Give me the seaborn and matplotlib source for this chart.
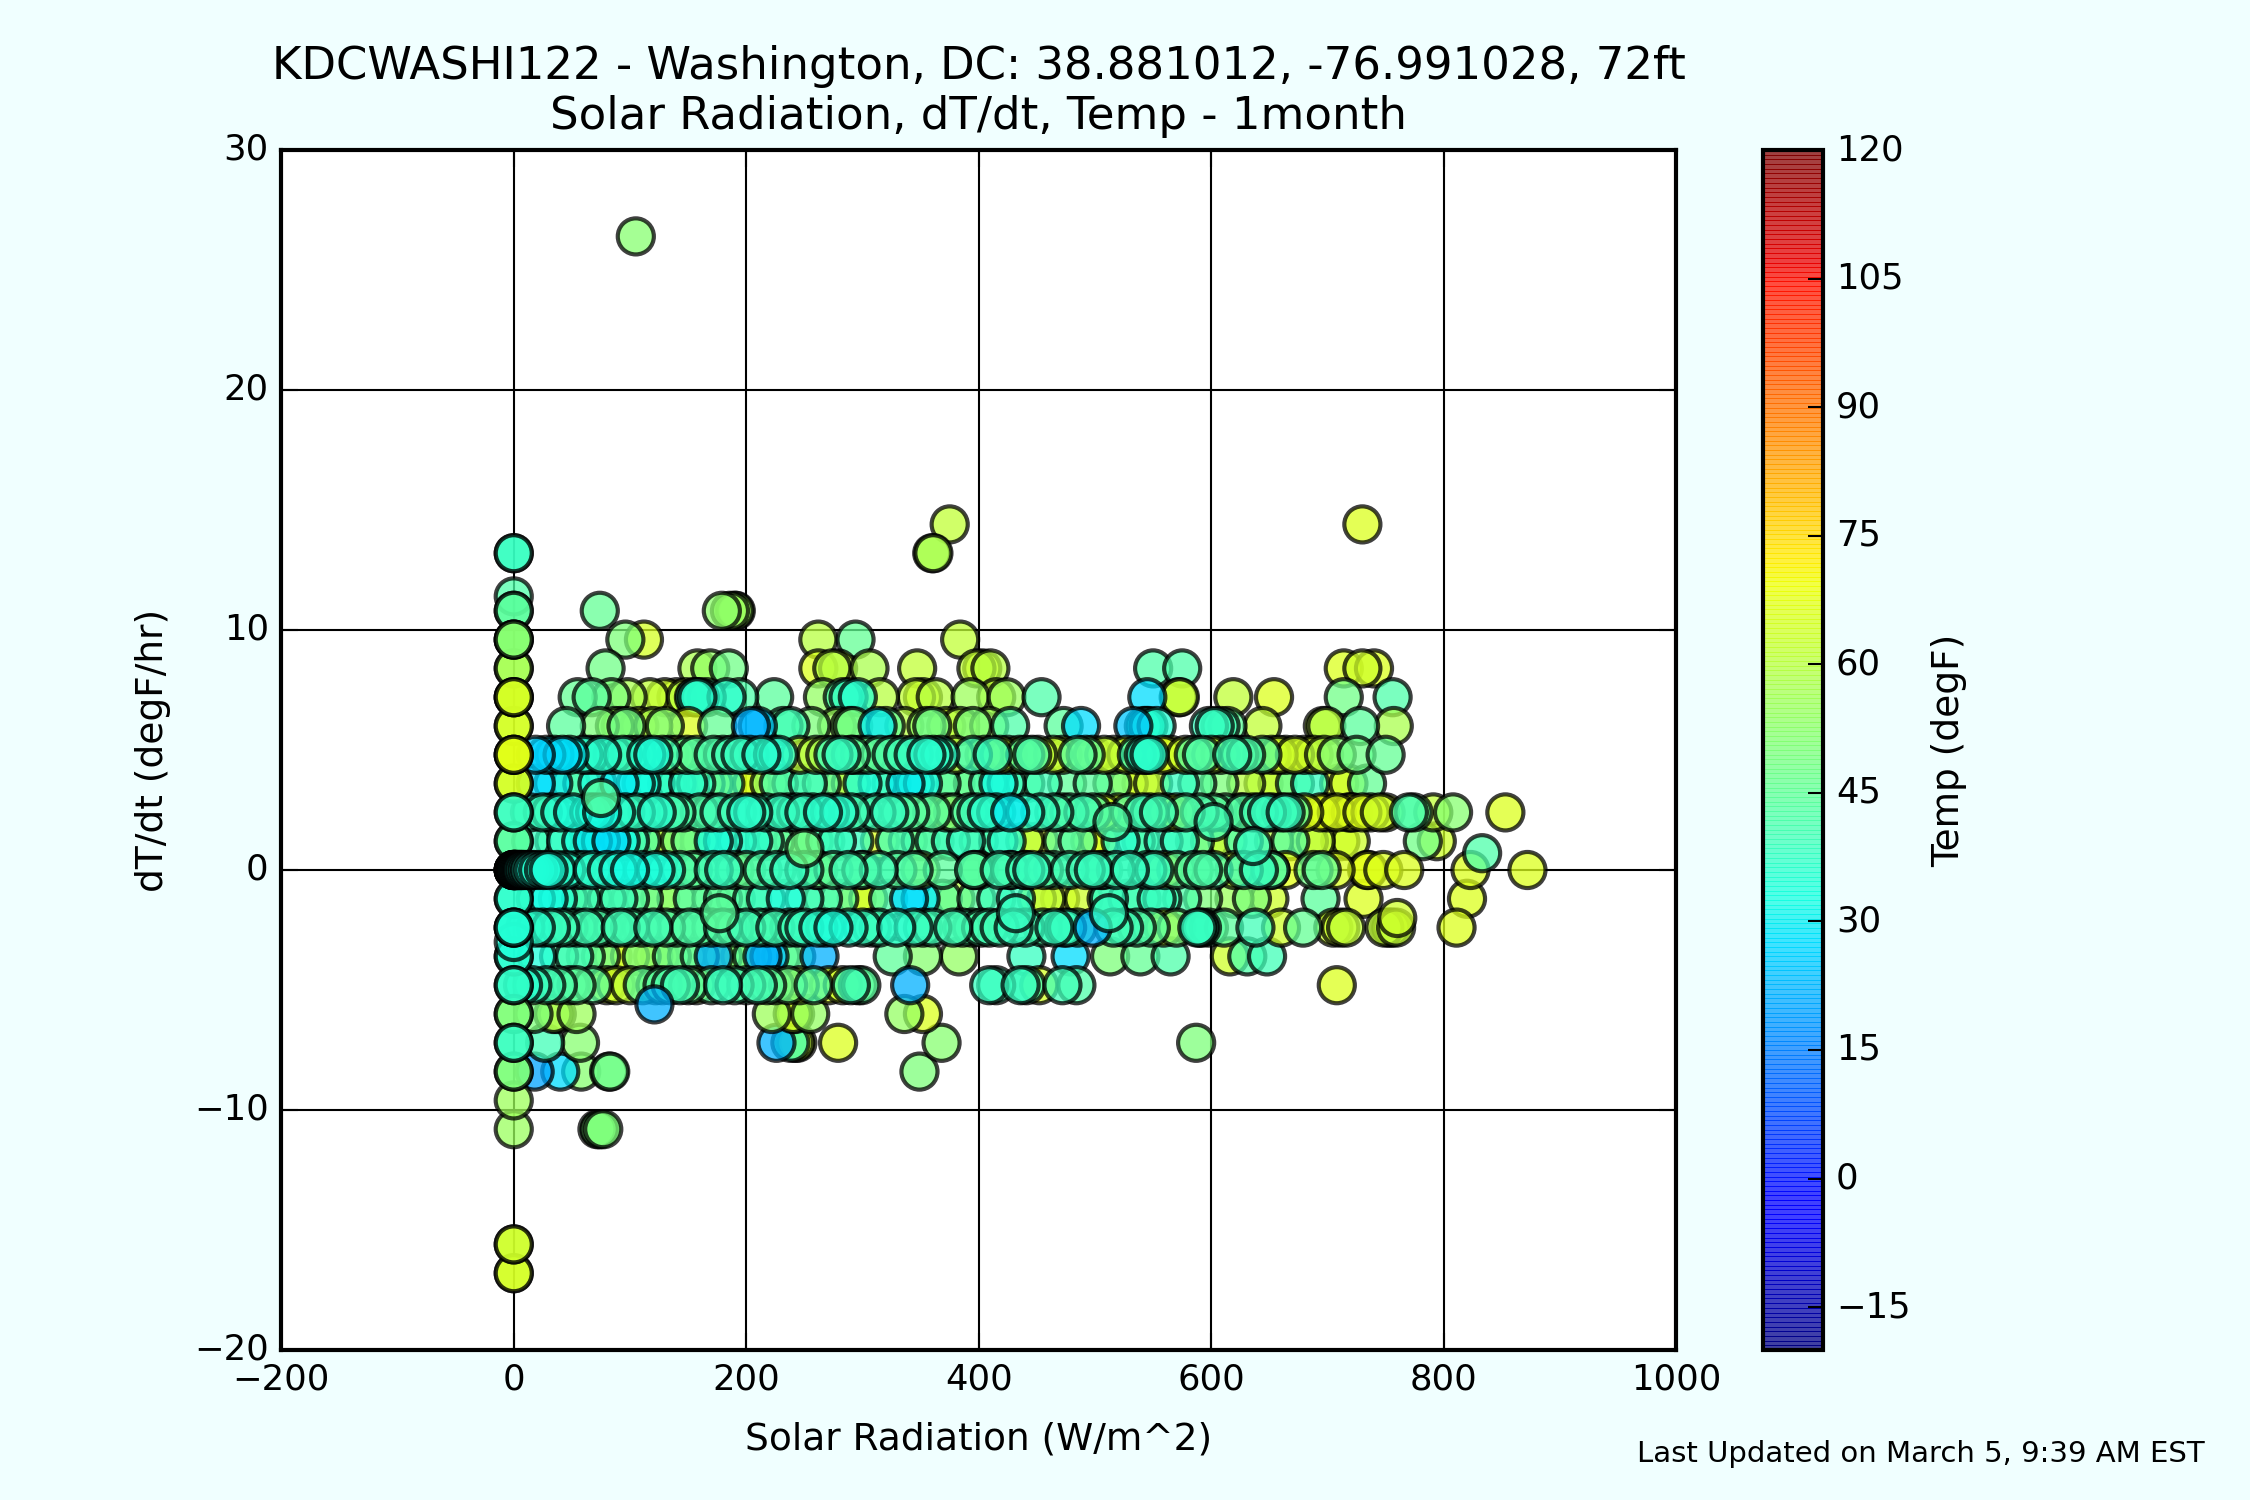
import pandas as pd
import numpy as np
import matplotlib
matplotlib.use('Agg')
import matplotlib.pyplot as plt
import seaborn as sns

# (solar radiation, temp) per dT/dt level
lvl_p144 = [(375, 62), (730, 66)]
lvl_p132 = [(360, 58), (361, 58)]
lvl_p108 = [(74, 46), (179, 53), (186, 55), (190, 56), (191, 56)]
lvl_p96 = [(96, 50), (112, 65), (262, 60), (294, 46), (384, 62)]
lvl_p84 = [(79, 48), (158, 58), (169, 54), (185, 48), (262, 66), (274, 60), (279, 62), (306, 58),
           (347, 62), (398, 62), (403, 66), (410, 60), (550, 42), (575, 42), (714, 66), (730, 64), (740, 66)]
lvl_p72 = [(55, 46), (67, 44), (84, 50), (98, 58), (117, 62), (130, 64), (140, 66), (148, 60), (156, 56),
           (166, 40), (183, 36), (194, 42), (224, 44), (266, 54), (283, 42), (288, 38), (296, 36), (315, 60),
           (346, 62), (352, 66), (363, 60), (393, 56), (415, 62), (424, 55), (454, 42), (545, 28), (572, 64),
           (573, 62), (619, 62), (654, 66), (714, 48), (756, 42), (155, 38), (158, 36), (160, 38)]
lvl_p60 = [(45, 44), (74, 50), (87, 56), (92, 62), (120, 58), (150, 66), (204, 22), (210, 26), (232, 44),
           (238, 40), (256, 50), (289, 52), (292, 48), (313, 30), (355, 54), (360, 48), (384, 60), (409, 56),
           (427, 42), (473, 44), (488, 28), (533, 25), (696, 62), (699, 60), (728, 44), (757, 58), (614, 45),
           (644, 62), (598, 38), (603, 38), (608, 40), (553, 35), (542, 38), (544, 38), (546, 36), (97, 48),
           (108, 66), (336, 60), (372, 64), (278, 56), (130, 52), (175, 46), (320, 46), (395, 50)]
lvl_p48 = [(19, 26), (28, 28), (418, 62), (425, 66), (435, 64), (451, 62), (464, 62), (472, 66), (498, 66),
           (516, 66), (527, 64), (565, 66), (578, 64), (664, 66), (672, 64), (680, 66), (688, 65), (697, 60),
           (708, 52), (725, 48), (750, 46), (246, 62), (260, 60), (140, 58), (106, 60), (327, 62), (380, 60),
           (405, 62), (292, 64), (620, 64), (71, 44), (85, 40), (94, 38), (298, 55), (149, 45), (157, 44),
           (172, 42), (180, 42), (187, 40), (195, 38), (203, 38), (213, 36), (223, 38), (228, 36), (35, 30),
           (42, 28), (48, 30), (60, 36), (65, 38), (120, 34), (114, 36), (128, 40), (275, 40), (282, 38),
           (315, 44), (325, 42), (335, 40), (344, 38), (355, 36), (361, 36), (367, 36), (395, 40), (412, 38),
           (446, 42), (440, 44), (492, 46), (485, 44), (536, 40), (542, 38), (544, 38), (547, 36), (585, 45),
           (592, 42), (618, 40), (624, 44), (630, 42), (644, 44), (508, 62), (558, 66), (600, 62), (608, 64),
           (652, 66), (658, 64), (268, 58), (134, 62), (100, 42), (76, 36), (290, 44), (305, 46)]
lvl_p36 = [(19, 28), (49, 46), (59, 40), (91, 30), (105, 33), (140, 42), (157, 38), (165, 60), (172, 62),
           (194, 68), (205, 66), (220, 55), (239, 45), (253, 40), (283, 62), (290, 58), (313, 38), (337, 30),
           (352, 32), (395, 46), (417, 32), (424, 38), (455, 40), (476, 45), (515, 48), (529, 64), (550, 62),
           (573, 38), (607, 50), (630, 60), (657, 62), (685, 38), (710, 66), (718, 64), (734, 46), (540, 66),
           (150, 36), (110, 34), (300, 34), (345, 36), (34, 30), (72, 34), (122, 36), (132, 44), (182, 40),
           (228, 42), (265, 44), (325, 40), (368, 44), (380, 48), (408, 42), (440, 44), (498, 44), (588, 44),
           (645, 64), (672, 46)]
lvl_p12 = [(35, 44), (45, 36), (68, 30), (75, 32), (122, 62), (130, 60), (143, 50), (172, 34), (180, 36), (206, 36),
           (225, 44), (240, 50), (258, 46), (278, 38), (293, 38), (315, 66), (339, 50), (350, 46), (389, 38),
           (400, 44), (417, 40), (424, 36), (452, 65), (472, 46), (496, 68), (504, 66), (522, 36), (559, 38),
           (573, 38), (599, 65), (614, 60), (654, 60), (684, 64), (690, 62), (711, 66), (720, 64), (782, 48),
           (794, 64), (100, 40), (92, 32), (84, 28), (160, 56), (440, 62), (540, 44), (15, 38), (58, 34), (110, 42),
           (152, 48), (192, 38), (216, 42), (268, 42), (328, 40), (362, 42), (376, 40), (485, 44), (535, 40),
           (586, 44), (628, 42), (668, 44)]
lvl_m12 = [(19, 34), (30, 32), (47, 44), (68, 46), (100, 44), (126, 60), (140, 52), (154, 44), (170, 48), (191, 46),
           (217, 38), (234, 34), (250, 40), (266, 42), (280, 44), (295, 66), (305, 64), (340, 28), (350, 30), (369, 44),
           (380, 60), (398, 44), (450, 65), (458, 62), (470, 66), (510, 46), (553, 38), (558, 40), (593, 50),
           (650, 64), (694, 44), (731, 66), (820, 66), (620, 56), (528, 42), (432, 38), (490, 64), (512, 38),
           (38, 36), (58, 40), (80, 42), (90, 40), (112, 46), (180, 44), (205, 42), (322, 42), (415, 40), (540, 40),
           (575, 42), (635, 50)]
lvl_m36 = [(39, 42), (62, 46), (85, 66), (100, 64), (120, 65), (126, 66), (149, 54), (172, 22), (189, 65), (195, 62),
           (214, 22), (220, 24), (243, 44), (263, 22), (326, 45), (352, 52), (383, 54), (441, 38), (479, 28),
           (513, 50), (539, 46), (565, 42), (616, 64), (631, 42), (648, 40), (20, 34), (52, 40), (75, 48), (110, 50),
           (136, 46), (160, 44), (180, 48), (205, 44), (230, 48)]
lvl_p24 = [(40, 36), (14, 40), (25, 38), (51, 34), (65, 36), (76, 32), (88, 36), (105, 38), (123, 36), (134, 40),
           (146, 44), (160, 42), (177, 40), (192, 40), (206, 38), (217, 40), (229, 38), (243, 38), (257, 40),
           (266, 36), (280, 36), (300, 42), (323, 38), (341, 44), (360, 44), (372, 66), (378, 48), (392, 42),
           (407, 36), (427, 30), (453, 38), (472, 66), (490, 40), (506, 64), (520, 66), (541, 40), (547, 42),
           (562, 66), (570, 64), (590, 42), (602, 44), (625, 66), (636, 64), (641, 40), (648, 38), (652, 42),
           (660, 40), (664, 38), (680, 66), (694, 68), (700, 68), (708, 66), (718, 68), (720, 68), (722, 68),
           (730, 66), (737, 66), (745, 64), (750, 66), (774, 44), (770, 42), (791, 62), (808, 52), (853, 66),
           (32, 40), (70, 34), (96, 38), (115, 40), (140, 42), (170, 44), (200, 36), (236, 40), (250, 38), (272, 38),
           (290, 40), (312, 40), (332, 42), (350, 46), (398, 40), (415, 38), (440, 36), (465, 40), (478, 42), (498, 44),
           (530, 44), (555, 40), (578, 42), (612, 44), (628, 42), (670, 44)]
lvl_m24 = [(19, 36), (32, 38), (47, 42), (62, 40), (86, 44), (100, 42), (131, 44), (151, 42), (140, 46), (170, 46),
           (190, 44), (200, 40), (211, 42), (225, 40), (237, 42), (250, 38), (262, 36), (275, 34), (288, 36),
           (300, 38), (314, 40), (329, 36), (344, 38), (360, 40), (378, 40), (394, 44), (409, 40), (418, 40),
           (430, 38), (455, 42), (473, 40), (476, 38), (498, 22), (516, 40), (536, 42), (559, 66), (570, 50),
           (588, 38), (590, 38), (592, 40), (611, 44), (638, 40), (660, 64), (679, 46), (705, 64), (711, 64),
           (716, 62), (749, 62), (753, 64), (755, 64), (759, 62), (811, 66), (10, 38), (25, 42), (40, 40), (55, 44),
           (72, 42), (78, 46), (92, 40), (110, 44), (120, 40), (160, 44), (180, 42), (218, 44), (244, 40), (268, 40),
           (308, 42), (352, 42), (386, 42), (402, 42), (440, 40), (465, 38), (485, 44), (525, 40), (548, 44), (598, 44)]
lvl_m48 = [(8, 36), (28, 40), (54, 44), (80, 66), (88, 64), (111, 46), (122, 50), (143, 40), (157, 62), (180, 38),
           (200, 42), (210, 40), (225, 50), (246, 64), (271, 66), (283, 64), (299, 44), (341, 22), (409, 38),
           (415, 40), (436, 38), (441, 40), (452, 65), (472, 40), (484, 42), (708, 66), (128, 44), (296, 46),
           (16, 38), (38, 42), (48, 46), (68, 44), (100, 62), (135, 42), (150, 44), (170, 44), (190, 42), (218, 44),
           (236, 48), (258, 42), (290, 40)]
lvl_zero = [(823, 66), (734, 68), (735, 68), (707, 66), (748, 66), (766, 66), (872, 66), (651, 64), (640, 66), (620, 62),
            (560, 60), (505, 64), (440, 62), (400, 60), (350, 58), (300, 58), (260, 56), (427, 44), (396, 46), (396, 42),
            (369, 44), (344, 42), (330, 44), (314, 40), (299, 42), (288, 40), (275, 44), (262, 46), (250, 40), (237, 38),
            (226, 40), (214, 42), (200, 46), (190, 48), (181, 38), (172, 40), (160, 50), (154, 44), (143, 42), (131, 36),
            (122, 34), (111, 34), (100, 32), (90, 34), (80, 36), (68, 36), (60, 38), (54, 38), (45, 36), (37, 36),
            (418, 40), (427, 42), (440, 40), (446, 38), (456, 42), (464, 42), (478, 40), (492, 40), (499, 38), (507, 40),
            (518, 40), (530, 38), (545, 40), (551, 38), (570, 46), (585, 44), (593, 42), (602, 42), (628, 40), (641, 38),
            (651, 40), (664, 68), (688, 48), (695, 46)]
lvl_m60 = [(17, 50), (34, 58), (37, 60), (54, 56), (222, 56), (240, 64), (242, 66), (255, 54), (336, 54), (352, 66)]
lvl_m72 = [(27, 40), (57, 52), (226, 22), (238, 40), (242, 62), (244, 64), (279, 66), (368, 52), (587, 50)]
lvl_m84 = [(18, 20), (40, 28), (58, 52), (82, 48), (83, 48), (349, 50)]
lvl_m108 = [(72, 50), (74, 50), (77, 50)]

# the night time stack at zero radiation: (dT/dt, temp), drawn after the levels
night_dtdt = [-16.8, -16.8, -15.6, -15.6, -10.8, -9.6, -6.0, -6.0, -3.6, -3.6, -3.0, -1.2, -1.2, 1.2, 1.2, 3.6, 3.6, 6.0, 6.0,
              8.4, 8.4, 11.4, 10.8, 10.8, 9.6, 9.6, 9.6, 13.2, 13.2, 7.2, 7.2, 7.2, 4.8, 4.8, 4.8, 2.4, 2.4, -8.4, -8.4, -7.2, -7.2,
              -4.8, -4.8, -2.4, -2.4, -2.4]
night_temp = [65, 65, 64, 64, 55, 56, 52, 50, 35, 36, 34, 38, 36, 42, 44, 65, 65, 65, 65,
              54, 58, 42, 44, 44, 52, 52, 52, 38, 38, 65, 65, 65, 67, 67, 67, 39, 39, 50, 50, 39, 39,
              37, 37, 35, 35, 35]

# the dark blob around zero, near dark readings with no change: solar, temp
still_solar = [0, 0, 0, 0, 0, 0, 1, 1, 2, 2, 3, 4, 5, 6, 7, 8, 10, 12, 14, 17, 21, 26, 30]
still_temp = [35, 36, 35, 34, 35, 36, 35, 34, 36, 35, 34, 35, 35, 35, 34, 35, 36, 35, 36, 34, 36, 36, 34]

# off-grid stragglers: solar, dT/dt, temp
odd_solar = [105, 833, 515, 602, 636, 760, 432, 512, 121, 177, 250, 75]
odd_dtdt = [26.4, 0.7, 2.0, 2.0, 1.0, -2.0, -1.8, -1.8, -5.6, -1.8, 0.9, 3.0]
odd_temp = [52, 42, 42, 40, 38, 64, 38, 38, 22, 44, 48, 44]

cbar_ticks = [-15, 0, 15, 30, 45, 60, 75, 90, 105, 120]

# levels in the order they get drawn
layers = [(14.4, lvl_p144), (13.2, lvl_p132), (10.8, lvl_p108), (9.6, lvl_p96), (8.4, lvl_p84), (7.2, lvl_p72),
          (6.0, lvl_p60), (-8.4, lvl_m84), (-10.8, lvl_m108), (-7.2, lvl_m72), (-6.0, lvl_m60), (-3.6, lvl_m36),
          (3.6, lvl_p36), (1.2, lvl_p12), (-1.2, lvl_m12), (4.8, lvl_p48), (-4.8, lvl_m48),
          (2.4, lvl_p24), (-2.4, lvl_m24), (0.0, lvl_zero)]

frames = []
for level, pts in layers:
    part = pd.DataFrame(pts, columns=['solar', 'temp'])
    part['dtdt'] = level
    # warm first, the cold readings sit on top in the original
    frames.append(part.sort_values('temp', ascending=False))
frames.append(pd.DataFrame({'solar': odd_solar, 'dtdt': odd_dtdt, 'temp': odd_temp}))
frames.append(pd.DataFrame({'solar': [0] * len(night_dtdt), 'dtdt': night_dtdt, 'temp': night_temp}))
frames.append(pd.DataFrame({'solar': still_solar, 'dtdt': [0.0] * len(still_solar), 'temp': still_temp}))
df = pd.concat(frames, ignore_index=True)

plt.style.use('classic')
plt.rcParams['font.family'] = ['DejaVu Sans']

fig, ax = plt.subplots(figsize=(15, 10), dpi=150, facecolor='azure')
jet = matplotlib.colormaps['jet']
norm = matplotlib.colors.Normalize(vmin=-20, vmax=120)
sns.scatterplot(data=df, x='solar', y='dtdt', hue='temp', palette=jet, hue_norm=norm,
                s=300, alpha=0.75, edgecolor='black', linewidth=2, legend=False, ax=ax, zorder=3)

ax.set_xlim(-200, 1000)
ax.set_ylim(-20, 30)
ax.grid(True, linestyle='-', color='black', linewidth=1)
ax.set_axisbelow(True)
ax.tick_params(labelsize=17, direction='in', length=8, width=1, pad=6)
for side in ax.spines.values():
    side.set_linewidth(2)
ax.set_xlabel('Solar Radiation (W/m^2)', fontsize=18, labelpad=12)
ax.set_ylabel('dT/dt (degF/hr)', fontsize=18, labelpad=11)
ax.set_title('KDCWASHI122 - Washington, DC: 38.881012, -76.991028, 72ft\nSolar Radiation, dT/dt, Temp - 1month',
             fontsize=21.6, y=1.0, pad=10)

sm = plt.cm.ScalarMappable(norm=norm, cmap=jet)
sm.set_array([])
cbar = fig.colorbar(sm, ax=ax, ticks=cbar_ticks, alpha=0.75)
cbar.solids.set_edgecolor('face')
cbar.solids.set_linewidth(0.4)
cbar.outline.set_linewidth(2)
cbar.ax.tick_params(labelsize=17, direction='in', length=7, width=1, color='black', pad=6)
cbar.set_label('Temp (degF)', fontsize=18, labelpad=10)

fig.text(0.98, 0.025, 'Last Updated on March 5, 9:39 AM EST', ha='right', fontsize=14)
fig.savefig('out.png', dpi=150, facecolor=fig.get_facecolor())
